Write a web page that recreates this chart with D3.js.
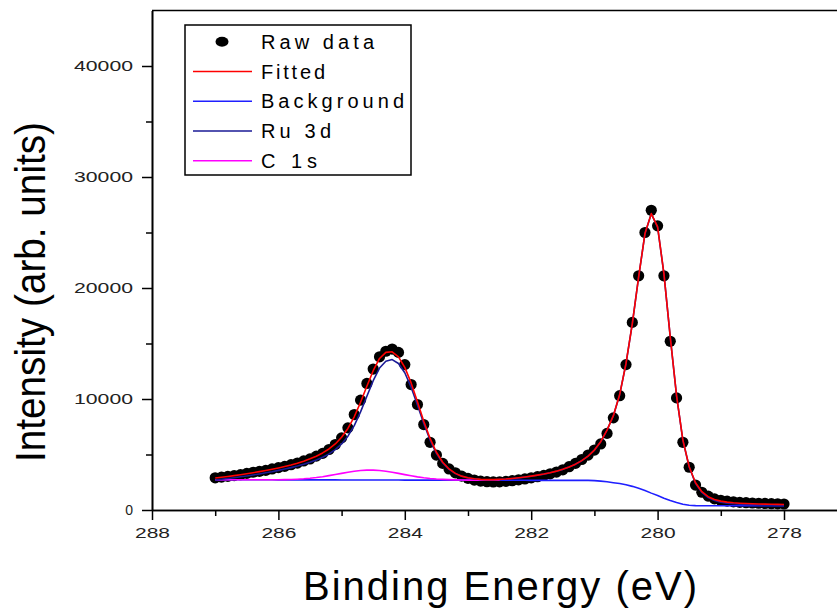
<!DOCTYPE html>
<html><head><meta charset="utf-8">
<script src="https://cdn.jsdelivr.net/npm/d3@7"></script>
<style>body{margin:0;background:#fff} svg{display:block;background:#fff}</style>
</head><body>
<svg id="chart" width="837" height="611"></svg>
<script>
// Binding energy grid (eV)
const energies = [287.0,286.9,286.8,286.7,286.6,286.5,286.4,286.3,286.2,286.1,
  286.0,285.9,285.8,285.7,285.6,285.5,285.4,285.3,285.2,285.1,
  285.0,284.9,284.8,284.7,284.6,284.5,284.4,284.3,284.2,284.1,
  284.0,283.9,283.8,283.7,283.6,283.5,283.4,283.3,283.2,283.1,
  283.0,282.9,282.8,282.7,282.6,282.5,282.4,282.3,282.2,282.1,
  282.0,281.9,281.8,281.7,281.6,281.5,281.4,281.3,281.2,281.1,
  281.0,280.9,280.8,280.7,280.6,280.5,280.4,280.3,280.2,280.1,
  280.0,279.9,279.8,279.7,279.6,279.5,279.4,279.3,279.2,279.1,
  279.0,278.9,278.8,278.7,278.6,278.5,278.4,278.3,278.2,278.1,278.0];

const rawData = [2900,2960,3030,3100,3180,3300,3400,3480,3570,3700,
  3820,3930,4080,4230,4420,4600,4850,5100,5450,5900,
  6500,7400,8600,9900,11400,12700,13800,14300,14500,14200,
  13100,11300,9500,7700,6100,4950,4200,3700,3350,3050,
  2850,2700,2600,2550,2530,2540,2580,2640,2720,2800,
  2900,3000,3120,3260,3420,3620,3900,4200,4550,4950,
  5400,5950,6900,8300,10300,13100,16900,21100,25000,27000,
  25600,21100,15200,10100,6100,3850,2250,1600,1250,1000,
  880,800,740,690,660,630,610,590,570,560,540];

const fitted = [2880,2950,3020,3100,3180,3270,3360,3460,3560,3670,
  3790,3920,4060,4220,4400,4610,4850,5140,5500,5950,
  6550,7350,8400,9700,11150,12550,13650,14200,14250,13800,
  12850,11450,9750,8000,6450,5200,4300,3700,3300,3050,
  2900,2810,2760,2740,2740,2760,2790,2840,2900,2970,
  3050,3140,3240,3360,3500,3670,3880,4130,4450,4860,
  5400,6150,7200,8500,10400,13200,16800,21000,24900,26700,
  25500,21300,15600,10300,6300,3900,2450,1650,1200,950,
  800,710,650,610,580,560,540,530,520,510,500];

const background = [2720,2720,2720,2720,2720,2720,2720,2720,2720,2720,
  2710,2710,2710,2710,2710,2710,2710,2710,2710,2710,
  2700,2700,2700,2700,2700,2700,2700,2700,2700,2700,
  2695,2695,2695,2695,2695,2695,2695,2695,2695,2695,
  2685,2685,2685,2685,2685,2685,2685,2685,2685,2685,
  2670,2670,2670,2670,2670,2670,2670,2670,2670,2670,
  2650,2600,2540,2460,2380,2270,2130,1960,1760,1520,
  1300,1060,860,680,520,430,390,380,380,380,
  380,380,380,380,380,380,380,380,380,380,380];

const ru3d = [2700,2770,2840,2910,2990,3070,3160,3250,3350,3450,
  3570,3690,3820,3960,4120,4300,4500,4750,5050,5440,
  5950,6650,7600,8840,10250,11650,12790,13400,13550,13200,
  12360,11060,9460,7790,6300,5100,4240,3660,3280,3040,
  2890,2800,2750,2730,2730,2750,2780,2830,2890,2960,
  3040,3130,3230,3350,3490,3660,3870,4120,4440,4850,
  5390,6140,7190,8490,10390,13190,16790,20990,24890,26690,
  25490,21290,15590,10290,6280,3870,2400,1580,1120,860,
  710,620,560,520,490,470,450,440,430,420,410];

// C 1s component, drawn from 287.0 to 282.5 eV
const c1sEnergies = [287.0,286.9,286.8,286.7,286.6,286.5,286.4,286.3,286.2,286.1,
  286.0,285.9,285.8,285.7,285.6,285.5,285.4,285.3,285.2,285.1,
  285.0,284.9,284.8,284.7,284.6,284.5,284.4,284.3,284.2,284.1,
  284.0,283.9,283.8,283.7,283.6,283.5,283.4,283.3,283.2,283.1,
  283.0,282.9,282.8,282.7,282.6,282.5];
const c1s = [2720,2720,2720,2720,2721,2721,2722,2722,2723,2724,
  2723,2733,2750,2774,2809,2858,2922,3002,3097,3201,
  3300,3405,3494,3560,3596,3596,3560,3494,3405,3300,
  3186,3082,2987,2907,2843,2794,2759,2735,2718,2708,
  2692,2689,2687,2686,2685,2685];

const yMajorTicks = [0,10000,20000,30000,40000];
const yMinorTicks = [5000,15000,25000,35000];
const xMajorTicks = [288,286,284,282,280,278];
const xMinorTicks = [287,285,283,281,279];
const legendLabels = ["Raw data","Fitted","Background","Ru 3d","C 1s"];
const xTitle = "Binding Energy (eV)";
const yTitle = "Intensity (arb. units)";

const FONT = "'Liberation Sans', Arial, Helvetica, sans-serif";
const colors = {fitted:"#ff0000", background:"#1f1fff", ru3d:"#1a1a96", c1s:"#ff00ff"};

const svg = d3.select("#chart");
const x = d3.scaleLinear().domain([288, 277]).range([152, 847.2]);
const y = d3.scaleLinear().domain([0, 45000]).range([510, 10.5]);

// ---- data marks ----
const plot = svg.append("g");
plot.selectAll("circle.raw").data(energies.map((e,i)=>[e, rawData[i]]))
  .join("circle").attr("class","raw")
  .attr("cx", d=>x(d[0])).attr("cy", d=>y(d[1])).attr("r", 5.6).attr("fill","#000");

const line = d3.line().x(d=>x(d[0])).y(d=>y(d[1]));
function drawLine(xs, ys, color){
  plot.append("path").datum(xs.map((e,i)=>[e, ys[i]]))
    .attr("d", line).attr("fill","none").attr("stroke", color)
    .attr("stroke-width", 1.6).attr("stroke-linejoin","round");
}
drawLine(energies, background, colors.background);
drawLine(c1sEnergies, c1s, colors.c1s);
drawLine(energies, ru3d, colors.ru3d);
drawLine(energies, fitted, colors.fitted);

// ---- axes ----
function styleAxis(g){
  g.selectAll("path.domain").attr("stroke","#000").attr("stroke-width",1.6);
  g.selectAll(".tick line").attr("stroke","#000").attr("stroke-width",1.5);
  g.selectAll(".tick text").attr("font-family",FONT).attr("font-size",14)
    .attr("fill","#222")
    .each(function(){ const t=d3.select(this); const s=t.text();
      if (s.length>1) t.attr("textLength", s.length*12-1).attr("lengthAdjust","spacingAndGlyphs"); });
}
svg.append("g").attr("transform","translate(152,0)")
  .call(d3.axisLeft(y).tickValues(yMinorTicks).tickSize(6).tickFormat("").tickSizeOuter(0))
  .call(styleAxis);
svg.append("g").attr("transform","translate(152,0)")
  .call(d3.axisLeft(y).tickValues(yMajorTicks).tickSize(10).tickPadding(9).tickSizeOuter(0).tickFormat(d3.format("d")))
  .call(styleAxis);
svg.append("g").attr("transform","translate(0,510)")
  .call(d3.axisBottom(x).tickValues(xMinorTicks).tickSize(6).tickFormat("").tickSizeOuter(0))
  .call(styleAxis);
svg.append("g").attr("transform","translate(0,510)")
  .call(d3.axisBottom(x).tickValues(xMajorTicks).tickSize(10).tickPadding(8).tickSizeOuter(0).tickFormat(d3.format("d")))
  .call(styleAxis);
// top frame line
svg.append("line").attr("x1", x(288)).attr("x2", x(277)).attr("y1", y(45000)).attr("y2", y(45000))
  .attr("stroke","#000").attr("stroke-width",1.6);

// ---- titles ----
svg.append("text").attr("x", 500).attr("y", 600).attr("text-anchor","middle")
  .attr("font-family",FONT).attr("font-size",40).attr("fill","#000")
  .attr("textLength",394).attr("lengthAdjust","spacing").text(xTitle);
svg.append("text").attr("transform","translate(45,292) rotate(-90)").attr("text-anchor","middle")
  .attr("font-family",FONT).attr("font-size",42).attr("fill","#000")
  .attr("textLength",340).attr("lengthAdjust","spacingAndGlyphs").text(yTitle);

// ---- legend ----
const lg = svg.append("g");
lg.append("rect").attr("x",185).attr("y",25).attr("width",226).attr("height",150)
  .attr("fill","#fff").attr("stroke","#000").attr("stroke-width",1.5);
const legendWidths = [113, 64, 143, 70, 56];
const legendColors = [null, colors.fitted, colors.background, colors.ru3d, colors.c1s];
legendLabels.forEach((lab,i)=>{
  const cy = 41.7 + i*29.75;
  if (i===0){
    lg.append("ellipse").attr("cx",222).attr("cy",cy).attr("rx",6.5).attr("ry",5).attr("fill","#000");
  } else {
    lg.append("line").attr("x1",193).attr("x2",252).attr("y1",cy).attr("y2",cy)
      .attr("stroke",legendColors[i]).attr("stroke-width",1.6);
  }
  lg.append("text").attr("x",261).attr("y",cy).attr("dy","0.36em")
    .attr("font-family",FONT).attr("font-size",20).attr("fill","#000")
    .attr("textLength",legendWidths[i]).attr("lengthAdjust","spacing").text(lab);
});
</script>
</body></html>
